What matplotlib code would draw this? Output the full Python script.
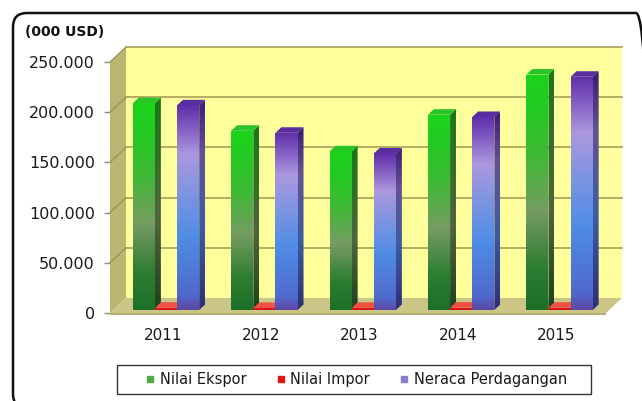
import numpy as np
import matplotlib
matplotlib.use("Agg")
import matplotlib.pyplot as plt
from matplotlib.patches import Polygon, FancyBboxPatch, Rectangle
from matplotlib.lines import Line2D
from matplotlib.transforms import IdentityTransform
from matplotlib.colors import LinearSegmentedColormap
from matplotlib.ticker import FuncFormatter

# ---------------- data ----------------
years = ["2011", "2012", "2013", "2014", "2015"]
nilai_ekspor = [206000, 178500, 158000, 194500, 234500]
nilai_impor = [2200, 2000, 2100, 2300, 2200]
neraca_perdagangan = [203800, 176500, 155900, 192200, 232300]
series_names = ["Nilai Ekspor", "Nilai Impor", "Neraca Perdagangan"]
y_ticks = [0, 50000, 100000, 150000, 200000, 250000]
unit_label = "(000 USD)"

# ---------------- figure ----------------
W, H = 642, 401
fig = plt.figure(figsize=(W / 100, H / 100), dpi=100)
fig.patch.set_facecolor("white")

ax = fig.add_axes([110 / W, 88 / H, 496 / W, 251 / H])
ax.set_autoscale_on(False)
XMIN, XMAX = -0.537, 4.505
YMAX = 250000
ax.set_xlim(XMIN, XMAX)
ax.set_ylim(0, YMAX)
ax.patch.set_visible(False)
for s in ax.spines.values():
    s.set_visible(False)

DX, DY = 16.0, 15.0          # depth offset (pixels) of back wall
F0, F1 = 0.2, 0.57           # bar depth range
IDT = IdentityTransform()


def P(x, v, f):
    px, py = ax.transData.transform((x, v))
    return (px + f * DX, py + f * DY)


def rgb(*c):
    return tuple(np.array(c) / 255.0)


def poly(pts, color, z, ec="none", lw=0):
    p = Polygon(pts, closed=True, facecolor=color, edgecolor=ec, lw=lw,
                transform=IDT, clip_on=False, zorder=z)
    ax.add_patch(p)
    return p


def grad_poly(pts, cmap, z):
    clip = Polygon(pts, closed=True, transform=IDT)
    arr = np.array(pts)
    l, r = arr[:, 0].min(), arr[:, 0].max()
    b, t = arr[:, 1].min(), arr[:, 1].max()
    g = np.linspace(0, 1, 256).reshape(-1, 1)
    img = cmap(g)[:, :, :3]
    img = np.repeat(img, 2, axis=1)
    im = ax.imshow(img, extent=[l, r, b, t], origin="lower", aspect="auto",
                   transform=IDT, interpolation="bilinear", zorder=z)
    im.set_clip_path(clip)
    im.set_clip_on(True)
    return im


# ---------------- walls ----------------
wall_col = rgb(255, 254, 156)
left_col = rgb(186, 181, 112)
floor_col = rgb(203, 198, 134)
grid_col = rgb(168, 158, 88)

poly([P(XMIN, 0, 1), P(XMAX, 0, 1), P(XMAX, YMAX, 1), P(XMIN, YMAX, 1)], wall_col, 1)
poly([P(XMIN, 0, 0), P(XMIN, 0, 1), P(XMIN, YMAX, 1), P(XMIN, YMAX, 0)], left_col, 2)
poly([P(XMIN, 0, 0), P(XMAX, 0, 0), P(XMAX, 0, 1), P(XMIN, 0, 1)], floor_col, 2)
# floor front edge slab
fa, fb = P(XMIN, 0, 0), P(XMAX, 0, 0)
poly([fa, fb, (fb[0], fb[1] - 2), (fa[0], fa[1] - 2)], rgb(178, 174, 118), 2)

for v in y_ticks[1:]:
    a, b = P(XMIN, v, 1), P(XMAX, v, 1)
    ax.add_line(Line2D([a[0], b[0]], [a[1], b[1]], color=grid_col, lw=1.2,
                       transform=IDT, clip_on=False, zorder=3))
    c = P(XMIN, v, 0)
    ax.add_line(Line2D([c[0], a[0]], [c[1], a[1]], color=rgb(150, 145, 85), lw=0.9,
                       transform=IDT, clip_on=False, zorder=3))

# ---------------- colour ramps ----------------
def ramp(name, stops):
    return LinearSegmentedColormap.from_list(
        name, [(p, rgb(*c)) for p, c in stops])


green_front = ramp("gf", [(0.0, (28, 112, 40)), (0.18, (45, 125, 50)),
                          (0.42, (118, 156, 98)), (0.66, (62, 186, 52)),
                          (0.86, (34, 202, 34)), (1.0, (28, 212, 28))])
green_side = ramp("gs", [(0.0, (28, 66, 30)), (0.42, (78, 100, 62)),
                         (1.0, (22, 122, 22))])
purple_front = ramp("pf", [(0.0, (92, 72, 162)), (0.07, (80, 104, 204)),
                           (0.35, (78, 140, 230)), (0.55, (122, 148, 226)),
                           (0.76, (172, 152, 222)), (0.91, (124, 84, 190)),
                           (1.0, (96, 46, 170))])
purple_side = ramp("ps", [(0.0, (46, 46, 118)), (0.4, (62, 92, 162)),
                          (0.75, (98, 82, 150)), (1.0, (58, 28, 118))])
red_front = ramp("rf", [(0.0, (205, 20, 20)), (1.0, (230, 30, 25))])
red_side = ramp("rs", [(0.0, (130, 10, 10)), (1.0, (150, 15, 15))])

styles = [
    (green_front, green_side, rgb(40, 196, 40)),
    (red_front, red_side, rgb(238, 80, 66)),
    (purple_front, purple_side, rgb(88, 46, 158)),
]
legend_cols = [rgb(80, 170, 70), rgb(225, 20, 20), rgb(140, 125, 205)]

series = [nilai_ekspor, nilai_impor, neraca_perdagangan]
BW = 0.225
z = 10
for i in range(len(years)):
    for k, vals in enumerate(series):
        v = vals[i]
        x0 = i + (k - 1) * BW - BW / 2
        x1 = x0 + BW
        fc, sc, tc = styles[k]
        side = [P(x1, 0, F0), P(x1, 0, F1), P(x1, v, F1), P(x1, v, F0)]
        top = [P(x0, v, F0), P(x1, v, F0), P(x1, v, F1), P(x0, v, F1)]
        front = [P(x0, 0, F0), P(x1, 0, F0), P(x1, v, F0), P(x0, v, F0)]
        grad_poly(side, sc, z); z += 1
        poly(top, tc, z); z += 1
        grad_poly(front, fc, z); z += 1

# ---------------- axes text ----------------
ax.set_yticks(y_ticks)
ax.yaxis.set_major_formatter(FuncFormatter(lambda v, _: f"{int(v):,}".replace(",", ".")))
ax.tick_params(axis="y", length=4.3, width=1.0, color="#8a8a8a", pad=6.5,
               labelsize=11.5, labelcolor="#1a1a1a")
ax.set_xticks(range(len(years)))
ax.set_xticklabels(years)
ax.tick_params(axis="x", length=0, pad=11.0, labelsize=11, labelcolor="#1a1a1a")

fig.text(25 / W, 1 - 32 / H, unit_label, ha="left", va="center",
         fontsize=10, fontweight="bold", color="#111111")

# ---------------- legend ----------------
legend_box = Rectangle((117, H - 394), 591 - 117, 394 - 365, facecolor="white",
                       edgecolor="#333333", lw=1.0, transform=IDT, clip_on=False,
                       zorder=50)
ax.add_patch(legend_box)
handles = [Line2D([], [], marker="s", ls="none", markersize=5, color=c) for c in legend_cols]
leg = ax.legend(handles, series_names, loc="center",
                bbox_to_anchor=(356 / W, (H - 379.5) / H), bbox_transform=fig.transFigure,
                ncol=3, frameon=False, fontsize=10.5, handlelength=0.7,
                handletextpad=0.3, columnspacing=2.0, borderpad=0.3)
leg.set_zorder(60)
for t in leg.get_texts():
    t.set_color("#1a1a1a")

# ---------------- outer rounded border ----------------
border = FancyBboxPatch((13, H - 408), 650 - 13, 408 - 13,
                        boxstyle="round,pad=0,rounding_size=14",
                        facecolor="none", edgecolor="#111111", lw=1.8,
                        transform=IDT, clip_on=False, zorder=0)
fig.add_artist(border)

fig.savefig("out.png", dpi=100, facecolor="white")
